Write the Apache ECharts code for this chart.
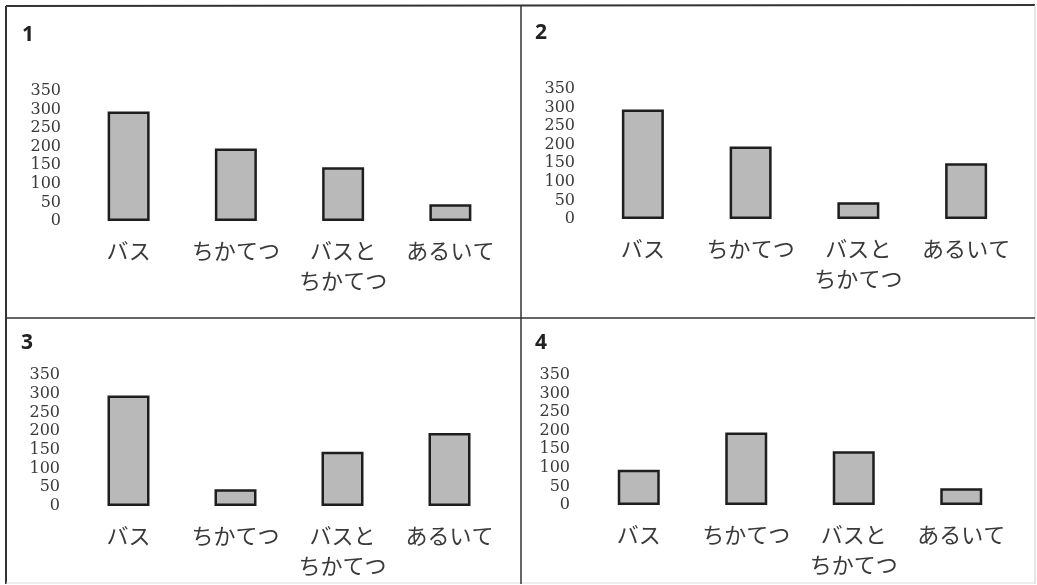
<!DOCTYPE html>
<html>
<head>
<meta charset="utf-8">
<script src="https://cdn.jsdelivr.net/npm/echarts@6/dist/echarts.min.js"></script>
<style>
  html, body { margin: 0; padding: 0; background: #fff; }
  #chart { width: 1037px; height: 585px; }
</style>
</head>
<body>
<div id="chart"></div>
<script>
// categories (same on every panel)
const categories = ['バス', 'ちかてつ', 'バスと\nちかてつ', 'あるいて']
// values
const panel1Values = [295, 195, 145, 45]
const panel2Values = [295, 195, 45, 150]
const panel3Values = [295, 45, 145, 195]
const panel4Values = [95, 195, 145, 45]
const panelNames = ['1', '2', '3', '4']
// y ticks 0..350 step 50
const yMax = 350
const yStep = 50

let barColor = '#b9b9b9'
let edgeColor = '#1e1e1e'
let textColor = '#3a3a3a'

const allValues = [panel1Values, panel2Values, panel3Values, panel4Values]

// grid boxes for the four panels
const grids = [
  { left: 75, top: 91, width: 429, height: 130 },
  { left: 589, top: 89, width: 431, height: 130 },
  { left: 75, top: 375, width: 428, height: 131 },
  { left: 585, top: 375, width: 430, height: 130 }
]
const labelMargins = [14, 14, 15, 15]
const numberPos = [[28, 35], [541, 33], [27, 343], [541, 343]]

let chart = echarts.init(document.getElementById('chart'))

let xAxes = []
let yAxes = []
let series = []
grids.forEach((g, i) => {
  xAxes.push({
    type: 'category',
    gridIndex: i,
    data: categories,
    axisLine: { show: false },
    axisTick: { show: false },
    axisLabel: {
      interval: 0,
      margin: 15,
      color: textColor,
      fontSize: 22,
      lineHeight: 30,
      fontFamily: '"Noto Sans CJK JP", sans-serif'
    }
  })
  yAxes.push({
    type: 'value',
    gridIndex: i,
    min: 0,
    max: yMax,
    interval: yStep,
    splitLine: { show: false },
    axisLine: { show: false },
    axisTick: { show: false },
    axisLabel: {
      margin: labelMargins[i],
      color: textColor,
      fontSize: 16,
      showMinLabel: true,
      showMaxLabel: true,
      fontFamily: '"DejaVu Serif", serif'
    }
  })
  series.push({
    type: 'bar',
    xAxisIndex: i,
    yAxisIndex: i,
    data: allValues[i],
    barWidth: 42,
    silent: true,
    itemStyle: {
      color: barColor,
      borderColor: edgeColor,
      borderWidth: 2.5
    }
  })
})

// frame lines and panel numbers
let graphics = [
  { type: 'line', shape: { x1: 6, y1: 6, x2: 1035, y2: 5 }, style: { stroke: '#333', lineWidth: 2 } },
  { type: 'line', shape: { x1: 6, y1: 6, x2: 6, y2: 584 }, style: { stroke: '#333', lineWidth: 2 } },
  { type: 'line', shape: { x1: 1035, y1: 5, x2: 1035, y2: 584 }, style: { stroke: '#ccc', lineWidth: 1 } },
  { type: 'line', shape: { x1: 6, y1: 583, x2: 1035, y2: 583 }, style: { stroke: '#ddd', lineWidth: 1 } },
  { type: 'line', shape: { x1: 521, y1: 5, x2: 521, y2: 584 }, style: { stroke: '#333', lineWidth: 1.5 } },
  { type: 'line', shape: { x1: 6, y1: 318, x2: 1035, y2: 318 }, style: { stroke: '#333', lineWidth: 1.5 } }
]
panelNames.forEach((name, i) => {
  graphics.push({
    type: 'text',
    x: numberPos[i][0],
    y: numberPos[i][1],
    style: {
      text: name,
      fill: '#222',
      fontSize: 21,
      fontWeight: 'bold',
      fontFamily: '"Noto Sans", sans-serif',
      align: 'center',
      verticalAlign: 'middle'
    }
  })
})

const options = {
  animation: false,
  backgroundColor: '#fff',
  grid: grids,
  xAxis: xAxes,
  yAxis: yAxes,
  series: series,
  graphic: graphics
}
chart.setOption(options)
</script>
</body>
</html>
